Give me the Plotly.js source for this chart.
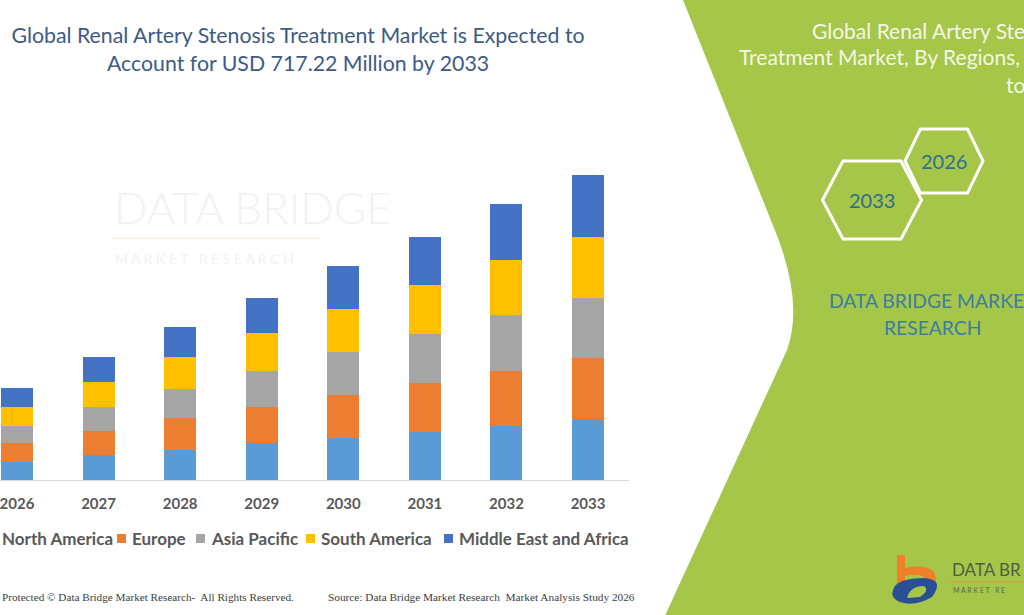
<!DOCTYPE html>
<html>
<head>
<meta charset="utf-8">
<script src="https://cdn.plot.ly/plotly-3.0.1.min.js"></script>
<style>html,body{margin:0;padding:0;background:#fff;}#chart{width:1024px;height:615px;}</style>
</head>
<body>
<div id="chart"></div>
<script>
// ---- data (USD million) ----
const years = ['2026', '2027', '2028', '2029', '2030', '2031', '2032', '2033'];
const northAmerica     = [42.3, 58.1, 70.5, 86.3,  98.8, 111.9, 126.0, 142.5];
const europe           = [44.0, 56.4, 74.5, 86.1, 101.8, 116.2, 131.0, 145.1];
const asiaPacific      = [40.7, 57.8, 68.9, 84.0,  99.5, 115.9, 131.0, 141.1];
const southAmerica     = [45.4, 57.4, 76.0, 89.8, 102.1, 114.5, 129.3, 143.4];
const middleEastAfrica = [43.3, 60.7, 70.5, 82.3, 100.2, 113.6, 130.7, 145.1];
const seriesNames = ['North America', 'Europe', 'Asia Pacific', 'South America', 'Middle East and Africa'];
const hexYears = ['2026', '2033'];

// ---- geometry helpers (pixel -> paper) ----
const W = 1024, H = 615;
const M = {l: 0, r: 395, t: 80, b: 135, autoexpand: false};
const PW = W - M.l - M.r, PH = H - M.t - M.b;
const px = x => (x - M.l) / PW;
const py = y => (M.t + PH - y) / PH;
const P = (x, y) => px(x).toFixed(5) + ',' + py(y).toFixed(5);

const colors = ['#5b9bd5', '#ed7d31', '#a5a5a5', '#ffc000', '#4472c4'];
const values = [northAmerica, europe, asiaPacific, southAmerica, middleEastAfrica];
const legendTextX = [0, 130, 209, 319, 457];

const FONT = 'Lato, Carlito, "Open Sans", sans-serif';
const SERIF = '"Liberation Serif", "Times New Roman", serif';

const traces = values.map((v, i) => ({
  type: 'bar', x: years, y: v, name: seriesNames[i],
  marker: {color: colors[i]},
  hoverinfo: 'x+y+name'
}));

const layout = {
  width: W, height: H,
  margin: M,
  paper_bgcolor: '#ffffff', plot_bgcolor: 'rgba(0,0,0,0)',
  barmode: 'stack', bargap: 0.608,
  showlegend: false,
  title: {
    text: 'Global Renal Artery Stenosis Treatment Market is Expected to<br>Account for USD 717.22 Million by 2033',
    x: 298 / W, xref: 'container', xanchor: 'center',
    y: 1 - 43 / H, yref: 'container', yanchor: 'top',
    font: {family: FONT, size: 21.3, color: '#3e5a86'}
  },
  xaxis: {
    type: 'category', range: [-0.2084, 7.502], showgrid: false, zeroline: false,
    showline: true, linecolor: '#d9d9d9', linewidth: 1, ticks: '',
    ticklabelstandoff: 10,
    tickfont: {family: FONT, size: 15, color: '#595959', weight: 700},
    fixedrange: true
  },
  yaxis: {range: [0, 940.6], visible: false, fixedrange: true},
  shapes: [],
  annotations: []
};

// green side panel
layout.shapes.push({
  type: 'path', xref: 'paper', yref: 'paper', layer: 'below',
  path: 'M' + P(681, -5) + ' L' + P(778, 238) + ' Q' + P(803, 305) + ' ' + P(787, 350) +
        ' L' + P(663, 620) + ' L' + P(1030, 620) + ' L' + P(1030, -5) + ' Z',
  fillcolor: '#a5c649', line: {width: 0}
});
// hexagons
function hex(cx, cy, w, h, top) {
  const a = [[cx - w / 2, cy], [cx - top, cy - h / 2], [cx + top, cy - h / 2], [cx + w / 2, cy], [cx + top, cy + h / 2], [cx - top, cy + h / 2]];
  return 'M' + a.map(p => P(p[0], p[1])).join(' L') + ' Z';
}
layout.shapes.push({type: 'path', xref: 'paper', yref: 'paper', path: hex(944, 161, 78, 64, 23.5), line: {color: '#ffffff', width: 3}});
layout.shapes.push({type: 'path', xref: 'paper', yref: 'paper', path: hex(872, 200, 99, 78, 29), line: {color: '#ffffff', width: 3}});

// bottom-right logo icon
layout.shapes.push({
  type: 'path', xref: 'paper', yref: 'paper',
  path: 'M' + P(897, 555) + ' L' + P(905, 555) + ' L' + P(905, 568) + ' Q' + P(937, 562) + ' ' + P(936, 582) +
        ' L' + P(927, 582) + ' Q' + P(925, 572) + ' ' + P(905, 576) + ' L' + P(905, 584) + ' L' + P(897, 584) + ' Z',
  fillcolor: '#f07f2a', line: {width: 0}
});
layout.shapes.push({
  type: 'path', xref: 'paper', yref: 'paper',
  path: 'M' + P(893, 590) + ' Q' + P(896, 578) + ' ' + P(925, 578) + ' Q' + P(945, 580) + ' ' + P(932, 597) +
        ' Q' + P(915, 607) + ' ' + P(900, 602) + ' Q' + P(890, 598) + ' ' + P(893, 590) + ' Z',
  fillcolor: '#2b4f94', line: {width: 0}
});
layout.shapes.push({
  type: 'path', xref: 'paper', yref: 'paper',
  path: 'M' + P(907, 598) + ' Q' + P(910, 586) + ' ' + P(924, 586) + ' Q' + P(930, 590) + ' ' + P(920, 597) + ' Z',
  fillcolor: '#a5c649', line: {width: 0}
});
layout.shapes.push({type: 'line', xref: 'paper', yref: 'paper', x0: px(950), x1: px(1030), y0: py(582), y1: py(582), line: {color: '#d99a4a', width: 1}});

// faint watermark in the chart area
layout.shapes.push({type: 'line', xref: 'paper', yref: 'paper', x0: px(112), x1: px(320), y0: py(238), y1: py(238), line: {color: '#fbeee3', width: 1.5}});

function ann(x, y, text, size, color, extra) {
  return Object.assign({
    xref: 'paper', yref: 'paper', x: px(x), y: py(y), text: text, showarrow: false,
    xanchor: 'left', yanchor: 'middle',
    font: {family: FONT, size: size, color: color}
  }, extra || {});
}

// legend (squares + labels built from the series names and colours)
seriesNames.forEach((name, i) => {
  const tx = legendTextX[i];
  layout.shapes.push({
    type: 'rect', xref: 'paper', yref: 'paper',
    x0: px(tx - 13), x1: px(tx - 4), y0: py(543), y1: py(534),
    fillcolor: colors[i], line: {width: 0}
  });
  layout.annotations.push(ann(tx, 538, name, 17, '#595959', {font: {family: FONT, size: 17, color: '#595959', weight: 700}}));
});

layout.annotations.push(
  ann(112, 207, 'DATA BRIDGE', 44, '#f2f2f2', {font: {family: FONT, size: 44, color: '#f2f2f2', weight: 300}}),
  ann(113, 258, 'M A R K E T   R E S E A R C H', 14, '#f2f2f2'),
  // right panel title (white, visible part)
  ann(810, 30, 'Global Renal Artery Ste', 21, '#f3f7e6'),
  ann(737, 57, 'Treatment Market, By Regions,', 21, '#f3f7e6'),
  ann(1004, 85, 'to', 21, '#f3f7e6'),
  // hexagon labels
  ann(944, 161, hexYears[0], 20, '#2f6e8e', {xanchor: 'center'}),
  ann(872, 200, hexYears[1], 20, '#2f6e8e', {xanchor: 'center'}),
  // brand text
  ann(827, 300, 'DATA BRIDGE MARKE', 19.3, '#3b7da3'),
  ann(933, 327, 'RESEARCH', 19.3, '#3b7da3', {xanchor: 'center'}),
  ann(950, 569, 'DATA BR', 17, '#4f5d44'),
  ann(951, 590, 'M A R K E T   R E', 7, '#5a6650'),
  // footer
  ann(0, 597, 'Protected © Data Bridge Market Research-  All Rights Reserved.', 11.2, '#404040', {font: {family: SERIF, size: 11.2, color: '#404040'}}),
  ann(326, 597, 'Source: Data Bridge Market Research  Market Analysis Study 2026', 11.3, '#404040', {font: {family: SERIF, size: 11.3, color: '#404040'}})
);

Plotly.newPlot('chart', traces, layout, {displayModeBar: false, staticPlot: true});
</script>
</body>
</html>
